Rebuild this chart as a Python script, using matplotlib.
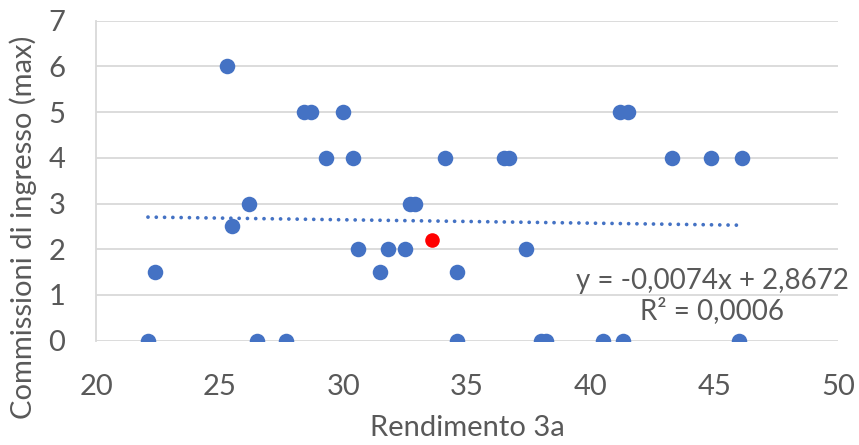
import matplotlib.pyplot as plt
import numpy as np

plt.rcParams['font.family'] = ['Lato', 'DejaVu Sans']

# Rendimento 3a vs commissioni di ingresso
rendimento = [22.1, 22.4, 25.3, 25.5, 26.2, 26.5, 27.7, 28.4, 28.7, 29.3,
              30.0, 30.4, 30.6, 31.5, 31.8, 32.5, 32.7, 32.9, 34.1, 34.6,
              34.6, 36.5, 36.7, 37.4, 38.0, 38.2, 40.5, 41.2, 41.5, 41.3,
              43.3, 44.85, 46.1, 46.0]
commissioni = [0, 1.5, 6, 2.5, 3, 0, 0, 5, 5, 4,
               5, 4, 2, 1.5, 2, 2, 3, 3, 4, 1.5,
               0, 4, 4, 2, 0, 0, 0, 5, 5, 0,
               4, 4, 4, 0]

# fondo evidenziato
evid_x = [33.6]
evid_y = [2.2]

# linea di tendenza lineare
slope = -0.0074
intercept = 2.8672
r2 = 0.0006

blue = '#4472C4'
grey_text = '#595959'
grid_col = '#D9D9D9'

fig = plt.figure(figsize=(8.59, 4.45), dpi=100)
ax = fig.add_axes([0.1118, 0.2344, 0.8638, 0.7191])

ax.scatter(rendimento, commissioni, s=125, color=blue, zorder=3, linewidths=0)
ax.scatter(evid_x, evid_y, s=110, color='#FF0000', zorder=4, linewidths=0)

xt = np.array([min(rendimento), max(rendimento)])
ax.plot(xt, slope * xt + intercept, color=blue, lw=2.7, linestyle=(0, (0.01, 2.2)),
        dash_capstyle='round', zorder=2)

ax.set_xlim(20, 50)
ax.set_ylim(0, 7)
ax.set_xticks(range(20, 51, 5))
ax.set_yticks(range(0, 8))
ax.grid(axis='y', color=grid_col, lw=1.3)
ax.set_axisbelow(True)
for s in ['top', 'right', 'bottom']:
    ax.spines[s].set_visible(False)
ax.spines['left'].set_color(grid_col)
ax.spines['left'].set_linewidth(1.3)
ax.tick_params(length=0, labelsize=21, labelcolor=grey_text)
ax.tick_params(axis='y', pad=22)
ax.tick_params(axis='x', pad=24)

fig.text(0.5437, 0.01, 'Rendimento 3a', ha='center', va='bottom',
         fontsize=21, color=grey_text)
fig.text(0.027, 0.49, 'Commissioni di ingresso (max)', rotation=90,
         ha='center', va='center', fontsize=21, color=grey_text)

eq = 'y = -{:.4f}x + {:.4f}\nR² = {:.4f}'.format(-slope, intercept, r2).replace('.', ',')
fig.text(0.829, 0.335, eq, ha='center', va='center', fontsize=20,
         color=grey_text, linespacing=1.15)

fig.savefig('out.png', dpi=100)
